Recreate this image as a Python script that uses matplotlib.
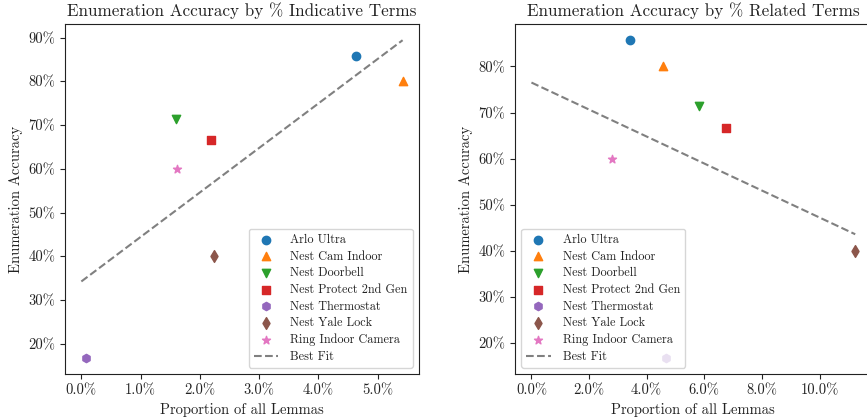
import numpy as np
import matplotlib
matplotlib.use("Agg")
from matplotlib import pyplot as plt
from matplotlib.ticker import PercentFormatter

plt.rcParams['font.family'] = 'cmr10'
plt.rcParams['axes.unicode_minus'] = False
plt.rcParams['axes.formatter.use_mathtext'] = True

devices = ['Arlo Ultra', 'Nest Cam Indoor', 'Nest Doorbell', 'Nest Protect 2nd Gen',
           'Nest Thermostat', 'Nest Yale Lock', 'Ring Indoor Camera']
markers = ['o', '^', 'v', 's', 'h', 'd', '*']

# enumeration accuracy (%) per device
accuracy = [85.7, 80.0, 71.4, 66.7, 16.7, 40.0, 60.0]
# proportion of all lemmas (%) - indicative terms
indicative = [4.63, 5.42, 1.59, 2.19, 0.085, 2.24, 1.61]
# proportion of all lemmas (%) - related terms
related = [3.42, 4.57, 5.82, 6.74, 4.68, 11.24, 2.81]

textcol = '#222222'

fig = plt.figure(figsize=(8.67, 4.17), dpi=100)
ax1 = fig.add_axes([0.0753, 0.1031, 0.4076, 0.8386])
ax2 = fig.add_axes([0.5943, 0.1031, 0.4108, 0.8386])


def draw(ax, xs, title, legloc):
    for i, name in enumerate(devices):
        ax.scatter(xs[i], accuracy[i], marker=markers[i], color='C%d' % i, label=name, zorder=3)
    m, b = np.polyfit(xs, accuracy, 1)
    fx = np.array([0, max(xs)])
    ax.plot(fx, m * fx + b, '--', color='gray', label='Best Fit')
    ax.set_title(title, fontsize=12.3, color=textcol)
    ax.set_xlabel('Proportion of all Lemmas', fontsize=10.5, color=textcol)
    ax.set_ylabel('Enumeration Accuracy', fontsize=10.5, color=textcol)
    ax.xaxis.set_major_formatter(PercentFormatter(decimals=1))
    ax.yaxis.set_major_formatter(PercentFormatter(decimals=0))
    ax.tick_params(labelsize=10.5, labelcolor=textcol, color=textcol)
    for s in ax.spines.values():
        s.set_color(textcol)
    ax.legend(loc=legloc, fontsize=8.8, labelcolor=textcol,
              labelspacing=0.37, handletextpad=1.0)


draw(ax1, indicative, 'Enumeration Accuracy by % Indicative Terms', 'lower right')
draw(ax2, related, 'Enumeration Accuracy by % Related Terms', 'lower left')

fig.savefig('out.png', dpi=100)
